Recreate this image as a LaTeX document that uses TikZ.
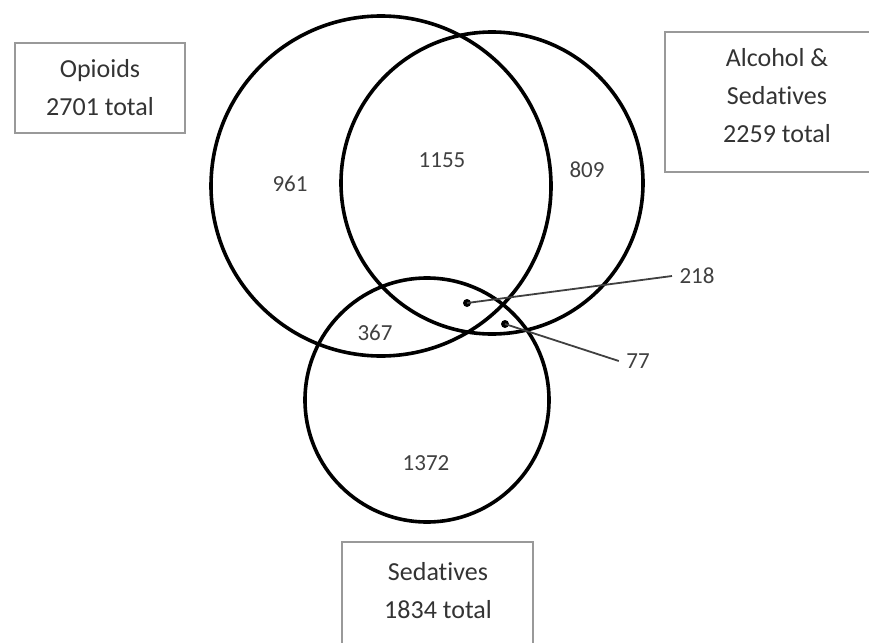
\documentclass[tikz,border=0pt]{standalone}
\usepackage{fontspec}
\setmainfont[Ligatures={NoCommon,NoContextual},RawFeature={-calt}]{Carlito}
\begin{document}
\begin{tikzpicture}[x=1pt,y=-1pt,
  setc/.style={draw=black,line width=3.6pt},
  lbox/.style={draw=black!40,line width=2.6pt},
  lbl/.style={font=\fontsize{26}{38}\selectfont,text=black!80,align=center},
  num/.style={font=\fontsize{23}{26}\selectfont,text=black!75},
  lead/.style={draw=black!75,line width=1.8pt},
  dotm/.style={circle,fill=black,inner sep=0pt,minimum size=8pt}]
\useasboundingbox (0,0) rectangle (869,642);
\clip (0,0) rectangle (869,642);
% circles
\draw[setc] (381,186) circle[radius=170];
\draw[setc] (492,183) circle[radius=151];
\draw[setc] (427,400) circle[radius=122];
% boxes
\draw[lbox] (15,43) rectangle (185,133);
\node[lbl] (opl) at (100,88) {Opioids\\2701 total};
\draw[lbox] (665,32) rectangle (880,172);
\node[lbl] (all) at (777,96) {Alcohol \&\\Sedat\kern0pt ives\\2259 total};
\draw[lbox] (342,542) rectangle (533,660);
\node[lbl] (sdl) at (438,591) {Sedat\kern0pt ives\\1834 total};
% region numbers
\node[num] (n961) at (290,184) {961};
\node[num] (n1155) at (442,160) {1155};
\node[num] (n809) at (587,170) {809};
\node[num] (n367) at (375,333) {367};
\node[num] (n1372) at (426,463) {1372};
\node[num] (n218) at (697,276) {218};
\node[num] (n77) at (638,361) {77};
% dots and leaders
\node[dotm] (d1) at (467,303) {};
\node[dotm] (d2) at (505,324) {};
\draw[lead] (d1.center) -- ([xshift=-4pt]n218.west);
\draw[lead] (d2.center) -- ([xshift=-4pt]n77.west);
\end{tikzpicture}
\end{document}
